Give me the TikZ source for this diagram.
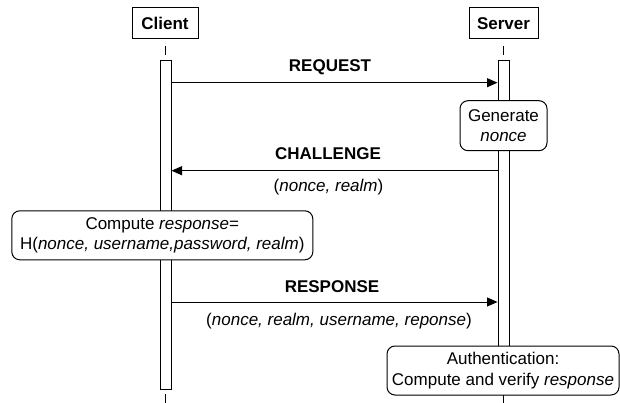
\documentclass[tikz,border=0pt]{standalone}
\usepackage{fontspec}
\setmainfont{Liberation Sans}
\usetikzlibrary{arrows.meta}
\begin{document}
\begin{tikzpicture}[x=1pt,y=-1pt,
  font=\fontsize{17}{20.5}\selectfont, line width=1pt,
  actor/.style={draw, inner sep=0pt, font=\fontsize{17}{20}\selectfont\bfseries},
  bar/.style={draw, fill=white, minimum width=11pt, inner sep=0pt, anchor=north},
  note/.style={draw, fill=white, rounded corners=8pt, align=center, inner sep=0pt},
  msg/.style={-{Triangle[length=10.5pt,width=9pt]}},
  lbl/.style={anchor=base, inner sep=0pt},
  boldlbl/.style={anchor=base, inner sep=0pt, font=\fontsize{17}{20}\selectfont\bfseries}]
\useasboundingbox (0,0) rectangle (620,403);

% actors
\node[actor, minimum width=66pt, minimum height=31pt] (client) at (165,23.5) {Client};
\node[actor, minimum width=69pt, minimum height=31.5pt] (server) at (503.5,23.2) {Server};

% lifeline stubs
\coordinate (ct1) at (165.5,46); \coordinate (ct2) at (165.5,55);
\coordinate (st1) at (503.5,46); \coordinate (st2) at (503.5,55);
\coordinate (cb1) at (165.5,394); \coordinate (cb2) at (165.5,403);
\coordinate (sb1) at (503.5,395); \coordinate (sb2) at (503.5,403);
\draw (ct1) -- (ct2);
\draw (st1) -- (st2);
\draw (cb1) -- (cb2);
\draw (sb1) -- (sb2);

% activation bars
\node[bar, minimum height=329pt] (cbar) at (165.5,60) {};
\node[bar, minimum height=295pt] (sbar) at (503.5,60) {};

% message heights
\coordinate (yreq) at (0,82.7);
\coordinate (ychal) at (0,170.7);
\coordinate (yresp) at (0,302);

% messages
\draw[msg] (cbar.east |- yreq) -- (sbar.west |- yreq);
\node[boldlbl] (lreq) at (330,71.5) {REQUEST};

\draw[msg] (sbar.west |- ychal) -- (cbar.east |- ychal);
\node[boldlbl] (lchal) at (328,159.3) {CHALLENGE};
\node[lbl] (pchal) at (328.5,191.5) {(\textit{nonce, realm})};

\draw[msg] (cbar.east |- yresp) -- (sbar.west |- yresp);
\node[boldlbl] (lresp) at (332,292.2) {RESPONSE};
\node[lbl] (presp) at (339,325) {(\textit{nonce, realm, username, reponse})};

% notes
\node[note, minimum width=87pt, minimum height=50pt] (gen) at (503.5,125.7)
  {Generate\\\textit{nonce}};
\node[note, minimum width=301pt, minimum height=49pt] (comp) at (162.3,235.3)
  {Compute \textit{response}=\\H(\textit{nonce, username,password, realm})};
\node[note, minimum width=232pt, minimum height=49pt] (auth) at (503,370.5)
  {Authentication:\\Compute and verify \textit{response}};
\end{tikzpicture}
\end{document}
